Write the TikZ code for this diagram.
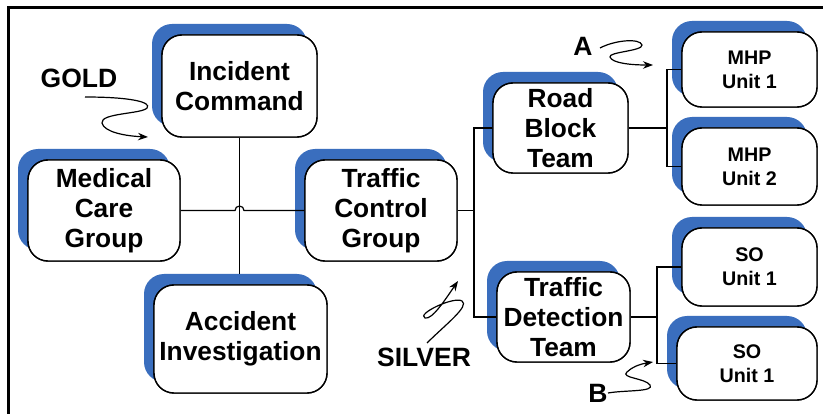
\documentclass[tikz,border=0pt]{standalone}
\usepackage{fontspec}
\setmainfont{Liberation Sans}
\usetikzlibrary{calc,arrows.meta}
\definecolor{shblue}{RGB}{58,110,190}
\begin{document}
\begin{tikzpicture}[x=1pt,y=1pt,
  box/.style={draw=black, line width=1.4pt, fill=white, rounded corners=20pt, align=center, inner sep=0pt,
    font=\fontsize{26.3}{30}\selectfont\bfseries},
  smallbox/.style={box, font=\fontsize{19.7}{24}\selectfont\bfseries},
  shad/.style={fill=shblue, draw=none, rounded corners=20pt, inner sep=0pt},
  conn/.style={line width=1.2pt, black},
  squig/.style={line width=1.2pt, black, -{Stealth[length=10pt,width=7.5pt]}},
  lab/.style={font=\fontsize{26.5}{30}\selectfont\bfseries, inner sep=0pt}]
\useasboundingbox (0,0) rectangle (823,-414);
\fill[white] (0,0) rectangle (823,-414);
% frame
\draw[line width=3pt] (8,-414) -- (8,-8) -- (823,-8);
% shadows
\node[shad, minimum width=155, minimum height=102] (ics) at (229.5,-75) {};
\node[shad, minimum width=152, minimum height=101] (mcs) at (94,-199.5) {};
\node[shad, minimum width=152, minimum height=101] (tcs) at (371,-199.5) {};
\node[shad, minimum width=173, minimum height=108] (ais) at (230.5,-328) {};
\node[shad, minimum width=135, minimum height=90] (rbs) at (550.5,-117) {};
\node[shad, minimum width=133, minimum height=90] (tds) at (553.5,-306) {};
\node[shad, minimum width=135, minimum height=75] (m1s) at (739.5,-58.5) {};
\node[shad, minimum width=135, minimum height=77] (m2s) at (739.5,-155.5) {};
\node[shad, minimum width=135, minimum height=78] (s1s) at (739.5,-256) {};
\node[shad, minimum width=140, minimum height=73] (s2s) at (737,-352.5) {};
% connector anchors
\coordinate (busA) at (474,-210.5);
\coordinate (busB) at (667,-128);
\coordinate (busC) at (657,-317);
% boxes (positions needed for connectors)
\path (239.5,-86) node[box, minimum width=155, minimum height=102] (ic) {Incident\\Command};
\path (104,-210.5) node[box, minimum width=152, minimum height=101] (mc) {Medical\\Care\\Group};
\path (381,-210.5) node[box, minimum width=152, minimum height=101] (tc) {Traffic\\Control\\Group};
\path (240.5,-339) node[box, minimum width=173, minimum height=108] (ai) {Accident\\Investigation};
\path (560.5,-128) node[box, minimum width=135, minimum height=90] (rb) {Road\\Block\\Team};
\path (563.5,-317) node[box, minimum width=133, minimum height=90] (td) {Traffic\\Detection\\Team};
\path (749.5,-69.5) node[smallbox, minimum width=135, minimum height=75] (m1) {MHP\\Unit 1};
\path (749.5,-166.5) node[smallbox, minimum width=135, minimum height=77] (m2) {MHP\\Unit 2};
\path (749.5,-267) node[smallbox, minimum width=135, minimum height=78] (s1) {SO\\Unit 1};
\path (747,-363.5) node[smallbox, minimum width=140, minimum height=73] (s2) {SO\\Unit 1};
% connectors
\draw[conn] (ic.south) -- (ic.south |- ais.north);
\draw[conn] (mc.east) -- ($(ic.south |- mc.east)+(-4.5,0)$) arc[start angle=180, end angle=0, radius=4.5] -- (tc.west);
\draw[conn] (tc.east) -- (busA);
\draw[conn] (rb.west) -| (busA) |- (td.west);
\draw[conn] (rb.east) -- (busB);
\draw[conn] (m1.west) -| (busB) |- (m2.west);
\draw[conn] (td.east) -- (busC);
\draw[conn] (s1.west) -| (busC) |- (s2.west);
% redraw boxes on top of connectors
\node[box, minimum width=155, minimum height=102] at (ic) {Incident\\Command};
\node[box, minimum width=152, minimum height=101] at (mc) {Medical\\Care\\Group};
\node[box, minimum width=152, minimum height=101] at (tc) {Traffic\\Control\\Group};
\node[box, minimum width=173, minimum height=108] at (ai) {Accident\\Investigation};
\node[box, minimum width=135, minimum height=90] at (rb) {Road\\Block\\Team};
\node[box, minimum width=133, minimum height=90] at (td) {Traffic\\Detection\\Team};
\node[smallbox, minimum width=135, minimum height=75] at (m1) {MHP\\Unit 1};
\node[smallbox, minimum width=135, minimum height=77] at (m2) {MHP\\Unit 2};
\node[smallbox, minimum width=135, minimum height=78] at (s1) {SO\\Unit 1};
\node[smallbox, minimum width=140, minimum height=73] at (s2) {SO\\Unit 1};
% labels
\node[lab] (gold) at (79,-78) {GOLD};
\node[lab] (la) at (583,-46) {A};
\node[lab] (silver) at (424,-357) {SILVER};
\node[lab] (lb) at (598,-393) {B};
% squiggle arrows
\coordinate (goldend) at (148,-137);
\coordinate (aend) at (653,-65);
\coordinate (silverend) at (458,-281);
\coordinate (bend) at (653,-362);
\draw[squig] (85,-97) .. controls (130,-97) and (152,-102) .. (147,-108)
  .. controls (142,-114) and (100,-113) .. (102,-123)
  .. controls (104,-132) and (125,-136) .. (goldend);
\draw[squig] (600,-48) .. controls (615,-40) and (640,-38) .. (642,-45)
  .. controls (643,-51) and (608,-52) .. (610,-57)
  .. controls (612,-63) and (630,-65) .. (aend);
\draw[squig] (427,-343) .. controls (445,-325) and (470,-306) .. (462,-301)
  .. controls (454,-296) and (416,-314) .. (425,-318)
  .. controls (432,-320) and (445,-300) .. (silverend);
\draw[squig] (608,-393) .. controls (625,-390) and (655,-392) .. (650,-385)
  .. controls (645,-378) and (620,-378) .. (627,-372)
  .. controls (632,-367) and (640,-364) .. (bend);
\end{tikzpicture}
\end{document}
